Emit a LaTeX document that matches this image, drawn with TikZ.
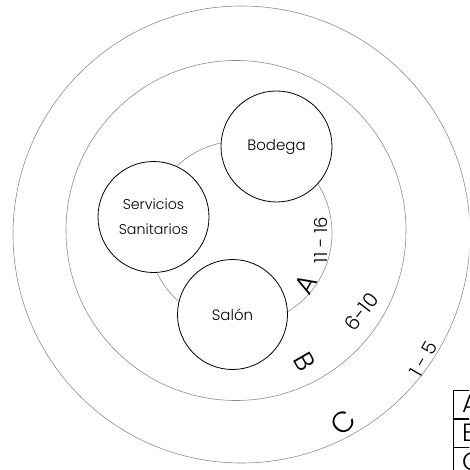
\documentclass[tikz,border=0pt]{standalone}
\usepackage{fontspec}
\setmainfont{Poppins Light}
\begin{document}
\begin{tikzpicture}[x=1pt,y=1pt,
  zone/.style={circle, draw=black!45, line width=0.6pt, inner sep=0pt},
  room/.style={circle, draw=black, fill=white, line width=0.8pt, inner sep=0pt, align=center, font=\fontsize{15}{25}\selectfont},
  lab/.style={inner sep=0pt, font=\fontsize{27}{27}\selectfont},
  num/.style={inner sep=0pt, font=\fontsize{18}{18}\selectfont},
  cell/.style={draw=black, line width=0.6pt, minimum width=40pt, minimum height=28pt, inner sep=0pt, anchor=north west},
  celltext/.style={inner sep=0pt, anchor=west, font=\fontsize{25}{25}\selectfont}]
\useasboundingbox (0,0) rectangle (469,-470);
\clip (0,0) rectangle (469,-470);
\node[zone, minimum size=457pt] (zc) at (241.5,-234.5) {};
\node[zone, minimum size=340pt] (zb) at (236,-230.5) {};
\node[zone, minimum size=184pt] (za) at (240,-233) {};
\node[room, minimum size=111pt] (bod) at (276.5,-146.5) {Bodega};
\node[room, minimum size=111pt, font=\fontsize{14.2}{25}\selectfont] (ser) at (153.5,-217) {Servicios\\Sanitarios};
\node[room, minimum size=110pt] (sal) at (232.5,-314.5) {Salón};
\node[num, rotate=90] (n1) at (321,-240) {11 - 16};
\node[lab, rotate=60] (la) at (306,-284) {A};
\node[num, rotate=52, font=\fontsize{20}{20}\selectfont] (n2) at (361.5,-311.5) {6-10};
\node[lab, rotate=-60] (lb) at (305,-362) {B};
\node[num, rotate=60, font=\fontsize{19}{19}\selectfont] (n3) at (423.5,-359) {1 - 5};
\node[lab, rotate=45, font=\fontsize{29}{29}\selectfont] (lc) at (343,-422) {C};
\node[cell] (ta) at (453,-390) {};
\node[cell] (tb) at (ta.south west) {};
\node[cell] (tc) at (tb.south west) {};
\node[celltext] (tta) at ([xshift=9pt]ta.west) {A};
\node[celltext] (ttb) at ([xshift=9pt]tb.west) {B};
\node[celltext] (ttc) at ([xshift=9pt]tc.west) {C};
\end{tikzpicture}
\end{document}
